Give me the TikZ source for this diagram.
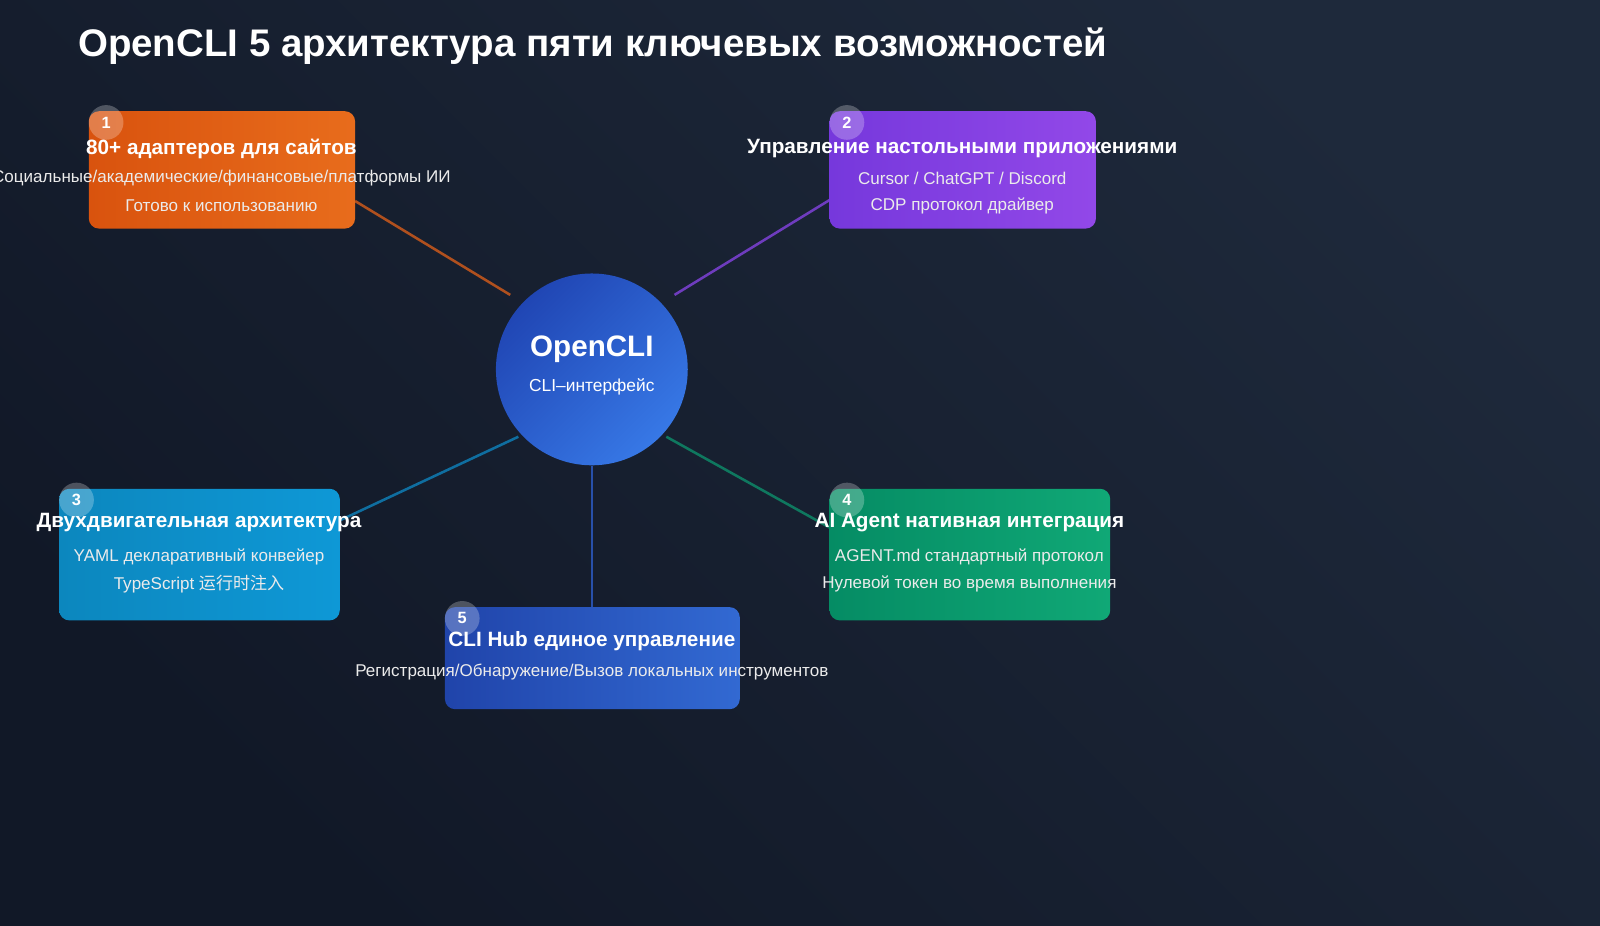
\documentclass[tikz,border=0pt]{standalone}
\usepackage{fontspec}
\setmainfont{Liberation Sans}
\newfontfamily\cjk{Noto Sans CJK SC}
\definecolor{bgA}{HTML}{111827}
\definecolor{bgB}{HTML}{1E293B}
\definecolor{c1}{RGB}{176,80,30}
\definecolor{c2}{RGB}{110,60,190}
\definecolor{c3}{RGB}{15,110,160}
\definecolor{c4}{RGB}{15,120,95}
\definecolor{c5}{RGB}{40,80,170}
\tikzset{
  box/.style={rounded corners=10pt},
  badge/.style={circle, fill=white, fill opacity=0.25, minimum size=34pt, inner sep=0pt, text opacity=1, text=white, font=\fontsize{16}{16}\selectfont\bfseries},
  ttl/.style={text=white, font=\fontsize{20.3}{22}\selectfont\bfseries},
  sub/.style={text=white!92!black, font=\fontsize{16.7}{18}\selectfont},
  conn/.style={line width=2.5pt}
}
\begin{document}
\begin{tikzpicture}[x=1pt,y=-1pt]
\shade[left color=bgA, right color=bgB, shading angle=135] (0,0) rectangle (1568,907);
\useasboundingbox (0,0) rectangle (1568,907);
\node[anchor=west, text=white, font=\fontsize{37.7}{40}\selectfont\bfseries] (title) at (73,45) {OpenCLI 5 архитектура пяти ключевых возможностей};
% centre node and edge coordinates
\node[circle, minimum size=188pt, inner sep=0pt] (c) at (580,362) {};
\coordinate (p1) at (500,289);
\coordinate (p2) at (661,289);
\coordinate (p3) at (508,428);
\coordinate (p4) at (653,428);
\coordinate (e1) at (348,197);
\coordinate (e2) at (813,196);
\coordinate (e3) at (333,510);
\coordinate (e4) at (813,517);
\coordinate (e5) at (580,595);
\draw[conn, c1] (p1) -- (e1);
\draw[conn, c2] (p2) -- (e2);
\draw[conn, c3] (p3) -- (e3);
\draw[conn, c4] (p4) -- (e4);
\draw[conn, c5] (c) -- (e5);
\shade[left color={rgb,255:red,32;green,70;blue,180}, right color={rgb,255:red,55;green,120;blue,230}, shading angle=45] (c.center) circle (94);
\node[text=white, font=\fontsize{29}{30}\selectfont\bfseries] (ct) at (580,342) {OpenCLI};
\node[text=white, font=\fontsize{17}{18}\selectfont] (cs) at (580,379) {CLI–интерфейс};
% boxes
\shade[box, left color={rgb,255:red,217;green,83;blue,14}, right color={rgb,255:red,232;green,108;blue,28}] (87,109) rectangle (348,224);
\shade[box, left color={rgb,255:red,118;green,56;blue,220}, right color={rgb,255:red,146;green,72;blue,232}] (813,109) rectangle (1074,224);
\shade[box, left color={rgb,255:red,12;green,135;blue,190}, right color={rgb,255:red,14;green,152;blue,214}] (58,479) rectangle (333,608);
\shade[box, left color={rgb,255:red,5;green,140;blue,100}, right color={rgb,255:red,16;green,168;blue,118}] (813,479) rectangle (1088,608);
\shade[box, left color={rgb,255:red,32;green,68;blue,170}, right color={rgb,255:red,50;green,105;blue,210}] (436,595) rectangle (725,695);
% badges
\node[badge] (n1) at (104,120) {1};
\node[badge] (n2) at (830,120) {2};
\node[badge] (n3) at (75,490) {3};
\node[badge] (n4) at (830,490) {4};
\node[badge] (n5) at (453,606) {5};
% texts
\node[ttl] (t1) at (217,146) {80+ адаптеров для сайтов};
\node[sub] (s1a) at (217,175) {Социальные/академические/финансовые/платформы ИИ};
\node[sub] (s1b) at (217,202) {Готово к использованию};
\node[ttl] (t2) at (943,146) {Управление настольными приложениями};
\node[sub] (s2a) at (943,175) {Cursor / ChatGPT / Discord};
\node[sub] (s2b) at (943,202) {CDP протокол драйвер};
\node[ttl] (t3) at (195,512) {Двухдвигательная архитектура};
\node[sub] (s3a) at (195,546) {YAML декларативный конвейер};
\node[sub] (s3b) at (195,572) {TypeScript {\cjk 运行时注入}};
\node[ttl] (t4) at (950,512) {AI Agent нативная интеграция};
\node[sub] (s4a) at (950,546) {AGENT.md стандартный протокол};
\node[sub] (s4b) at (950,572) {Нулевой токен во время выполнения};
\node[ttl] (t5) at (580,628) {CLI Hub единое управление};
\node[sub] (s5a) at (580,659) {Регистрация/Обнаружение/Вызов локальных инструментов};
\end{tikzpicture}
\end{document}
